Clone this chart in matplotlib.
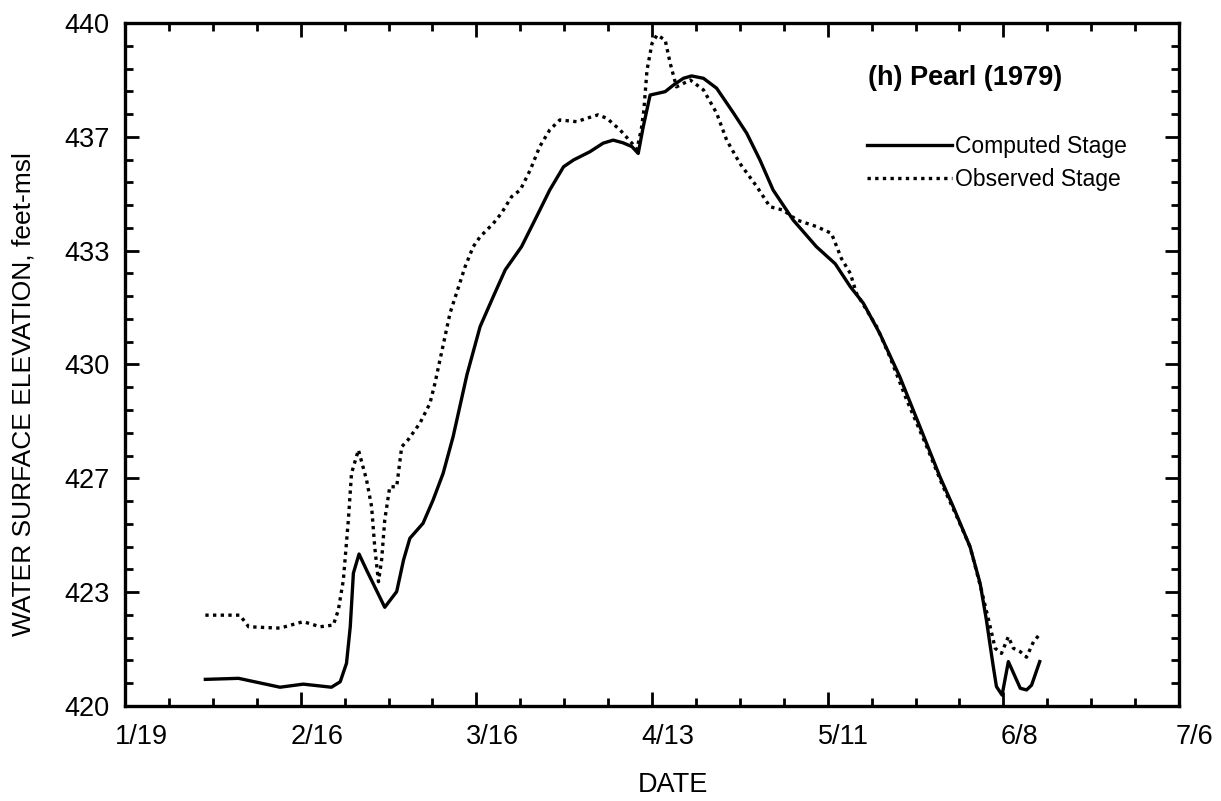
"""
Pearl (1979): computed vs observed stage
"""

import numpy as np
import matplotlib
matplotlib.use("Agg")
import matplotlib.pyplot as plt
import matplotlib.transforms as mtransforms

plt.rcParams['font.family'] = ['Liberation Sans', 'DejaVu Sans']

############################## data ###############################
# days counted from 1/19/1979
comp_day = [12.8, 18.1, 24.7, 28.4, 32.9, 34.3, 35.3, 35.9, 36.4, 37.3,
            38.5, 41.4, 43.3, 44.4, 45.4, 47.5, 49.1, 50.7, 52.3, 54.5,
            56.6, 58.7, 60.6, 63.2, 65.6, 67.7, 69.9, 71.5, 74.1, 76.2,
            77.8, 79.4, 80.8, 81.8, 82.6, 83.7, 86.1, 87.4, 89.0, 90.3,
            92.2, 94.3, 97.0, 99.1, 101.2, 103.3, 106.5, 110.2, 113.2, 115.6,
            117.7, 120.3, 123.5, 126.7, 129.9, 132.0, 134.7, 136.3, 137.3, 138.4,
            138.9, 139.8, 140.8, 142.7, 143.7, 144.5, 145.8]
comp_val = [420.78, 420.81, 420.55, 420.64, 420.55, 420.71, 421.25, 422.32, 423.89, 424.45,
            423.98, 422.89, 423.35, 424.28, 424.91, 425.35, 426.03, 426.81, 427.89, 429.70,
            431.11, 431.99, 432.77, 433.45, 434.33, 435.11, 435.79, 435.99, 436.23, 436.48,
            436.57, 436.49, 436.38, 436.18, 436.96, 437.89, 437.99, 438.18, 438.38, 438.45,
            438.38, 438.09, 437.36, 436.77, 435.99, 435.11, 434.23, 433.45, 432.95, 432.28,
            431.79, 430.91, 429.64, 428.18, 426.71, 425.84, 424.66, 423.59, 422.52, 421.15,
            420.57, 420.32, 421.30, 420.52, 420.47, 420.61, 421.30]

obs_day = [12.8, 18.3, 19.7, 24.7, 28.4, 31.1, 33.2, 34.0, 34.8, 35.6,
           36.1, 37.2, 38.5, 39.3, 39.8, 40.4, 40.9, 41.4, 42.2, 43.3,
           44.1, 45.1, 47.0, 48.6, 49.4, 51.8, 54.2, 55.5, 56.6, 58.7,
           60.0, 61.6, 63.0, 64.6, 66.1, 67.7, 69.3, 72.0, 73.6, 75.4,
           76.8, 78.9, 80.8, 81.6, 82.3, 82.7, 83.2, 84.0, 84.8, 86.1,
           86.9, 87.9, 90.1, 92.2, 94.3, 95.9, 98.0, 100.7, 102.8, 104.9,
           107.1, 110.2, 112.6, 114.2, 115.6, 116.6, 119.8, 121.9, 124.6, 127.8,
           130.4, 132.6, 134.7, 136.5, 137.8, 138.7, 139.7, 140.8, 141.6, 142.7,
           143.7, 144.8, 145.7]
obs_val = [422.66, 422.66, 422.32, 422.28, 422.47, 422.32, 422.37, 422.81, 423.69, 425.45,
           426.81, 427.50, 426.62, 425.84, 424.66, 423.64, 424.28, 425.45, 426.42, 426.42,
           427.59, 427.79, 428.28, 428.86, 429.45, 431.50, 432.86, 433.45, 433.74, 434.13,
           434.43, 434.91, 435.11, 435.70, 436.38, 436.87, 437.16, 437.11, 437.21, 437.31,
           437.21, 436.87, 436.48, 436.30, 436.90, 437.45, 438.62, 439.40, 439.65, 439.50,
           438.82, 438.13, 438.33, 438.04, 437.36, 436.57, 435.89, 435.21, 434.62, 434.52,
           434.23, 434.04, 433.84, 433.10, 432.67, 432.08, 431.11, 430.23, 428.96, 427.59,
           426.42, 425.54, 424.66, 423.40, 422.40, 421.69, 421.54, 422.03, 421.69, 421.59,
           421.43, 421.88, 422.08]

date_ticks = [0, 28, 56, 84, 112, 140, 168]
date_labels = ['1/19', '2/16', '3/16', '4/13', '5/11', '6/8', '7/6']
elev_ticks = np.linspace(420, 440, 7)
elev_labels = ['420', '423', '427', '430', '433', '437', '440']

############################## plot ###############################
fig = plt.figure(figsize=(12.21, 8.01), dpi=100)
ax = fig.add_axes([0.1024, 0.1186, 0.8632, 0.8527])

ax.plot(comp_day, comp_val, color='black', lw=2.4, label='Computed Stage')
ax.plot(obs_day, obs_val, color='black', lw=2.4, linestyle=(0, (1, 1.3)),
        label='Observed Stage')

ax.set_xlim(0, 168)
ax.set_ylim(420, 440)
ax.set_xticks(date_ticks)
ax.set_xticklabels(date_labels)
ax.set_xticks(np.arange(0, 169, 7), minor=True)
ax.set_yticks(elev_ticks)
ax.set_yticklabels(elev_labels)
ax.set_yticks(np.linspace(420, 440, 31), minor=True)

ax.tick_params(which='both', direction='in', top=True, right=True,
               labelsize=19.5, width=2)
ax.tick_params(which='major', length=10, pad=13)
ax.tick_params(axis='y', which='major', pad=11)
ax.tick_params(which='minor', length=6)
for s in ax.spines.values():
    s.set_linewidth(2.4)

# tick labels in the scan sit a little right of their ticks
shift = mtransforms.ScaledTranslation(0.16, 0, fig.dpi_scale_trans)
for lab in ax.get_xticklabels():
    lab.set_transform(lab.get_transform() + shift)

ax.set_xlabel('DATE', fontsize=19.5)
ax.xaxis.set_label_coords(0.52, -0.097)
ax.set_ylabel('WATER SURFACE ELEVATION, feet-msl', fontsize=19)
ax.yaxis.set_label_coords(-0.085, 0.457)

ax.text(0.705, 0.92, '(h) Pearl (1979)', transform=ax.transAxes,
        fontsize=19.5, fontweight='bold', va='center', ha='left')
ax.legend(loc='upper left', bbox_to_anchor=(0.704, 0.8365), frameon=False,
          fontsize=16.5, handlelength=3.7, handletextpad=0.15,
          labelspacing=0.45, borderpad=0, borderaxespad=0)

plt.savefig('out.png', dpi=100)
